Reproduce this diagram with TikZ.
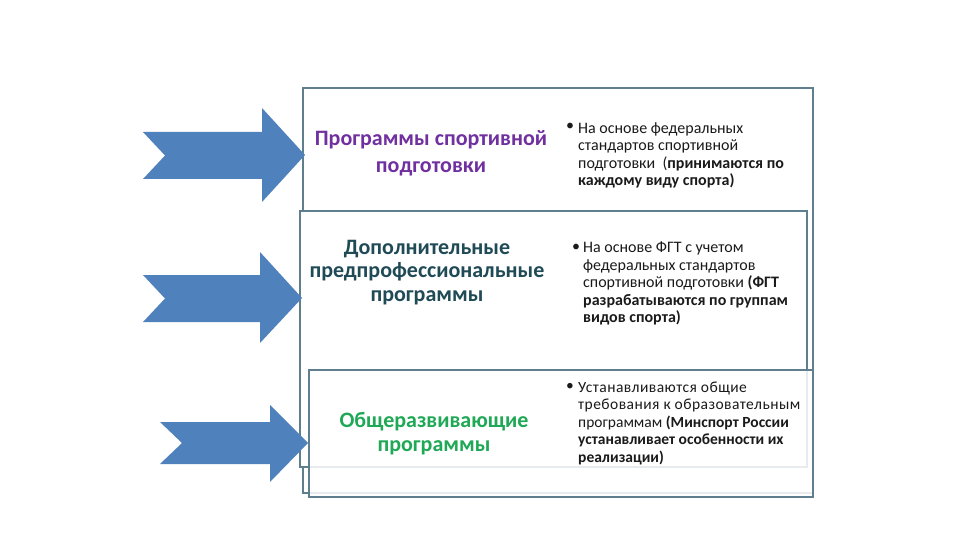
\documentclass[tikz,border=0pt]{standalone}
\usepackage{fontspec}
\setmainfont{Carlito}
\definecolor{arrowblue}{HTML}{4F81BD}
\definecolor{boxline}{HTML}{5F7F8E}
\definecolor{tpurple}{HTML}{7030A0}
\definecolor{tteal}{HTML}{1F4A56}
\definecolor{tgreen}{HTML}{1FA855}
\definecolor{body}{HTML}{1A1A1A}
\newcommand{\spaced}[1]{{\addfontfeatures{LetterSpace=3}#1}}
\begin{document}
\begin{tikzpicture}[x=1pt,y=-1pt,
  panel/.style={draw=boxline,line width=1.4pt},
  blockarrow/.style={fill=arrowblue,draw=none},
  title/.style={font=\fontsize{22}{24}\selectfont\bfseries,align=center,inner sep=0pt},
  bodytext/.style={font=\fontsize{16}{17.5}\selectfont,text=body,align=left,inner sep=0pt,anchor=north west},
  bullet/.style={font=\fontsize{16}{17.5}\selectfont,text=body,inner sep=0pt,anchor=base west}]
\useasboundingbox (0,0) rectangle (960,540);
\fill[white] (0,0) rectangle (960,540);
% panels
\draw[panel,fill=white] (303,88) rectangle (813,493);
\draw[panel,fill=white] (300,211) rectangle (807,467);
\fill[white,opacity=0.85] (309,370) rectangle (813,497);
\draw[panel] (309,370) rectangle (813,497);
% arrows
\path[blockarrow] (143,132) -- (262,132) -- (262,108) -- (305,155) -- (262,202) -- (262,179) -- (143,179) -- (165,155.5) -- cycle;
\path[blockarrow] (143,275) -- (260,275) -- (260,252) -- (302,298) -- (260,343) -- (260,322) -- (143,322) -- (165,298.5) -- cycle;
\path[blockarrow] (160,422) -- (270,422) -- (270,405) -- (308,443) -- (270,482) -- (270,464) -- (160,464) -- (182,443) -- cycle;
% titles
\node[title,text=tpurple,font=\fontsize{22}{27}\selectfont\bfseries] (t1) at (431,153.5) {Программы спортивной\\подготовки};
\node[title,text=tteal,font=\fontsize{22}{23.5}\selectfont\bfseries] (t2) at (427,272.5) {Дополнительные\\предпрофессиональные\\программы};
\node[title,text=tgreen] (t3) at (434,434) {Общеразвивающие\\программы};
% body texts
\node[bullet] (b1) at (566,131) {•};
\node[bodytext] (d1) at (578,122) {На основе федеральных\\стандартов спортивной\\подготовки \ (\textbf{принимаются по}\\\textbf{каждому виду спорта)}};
\node[bullet] (b2) at (572,251) {•};
\node[bodytext] (d2) at (583,242) {На основе ФГТ с учетом\\федеральных стандартов\\спортивной подготовки \textbf{(ФГТ}\\\textbf{разрабатываются по группам}\\\textbf{видов спорта)}};
\node[bullet,font=\fontsize{15.5}{17.5}\selectfont] (b3) at (566,390) {•};
\node[bodytext,font=\fontsize{15.5}{17.5}\selectfont] (d3) at (578,381.5) {\spaced{Устанавливаются общие}\\\spaced{требования к образовательным}\\программам \textbf{(Минспорт России}\\\textbf{устанавливает особенности их}\\\textbf{реализации)}};
\end{tikzpicture}
\end{document}
